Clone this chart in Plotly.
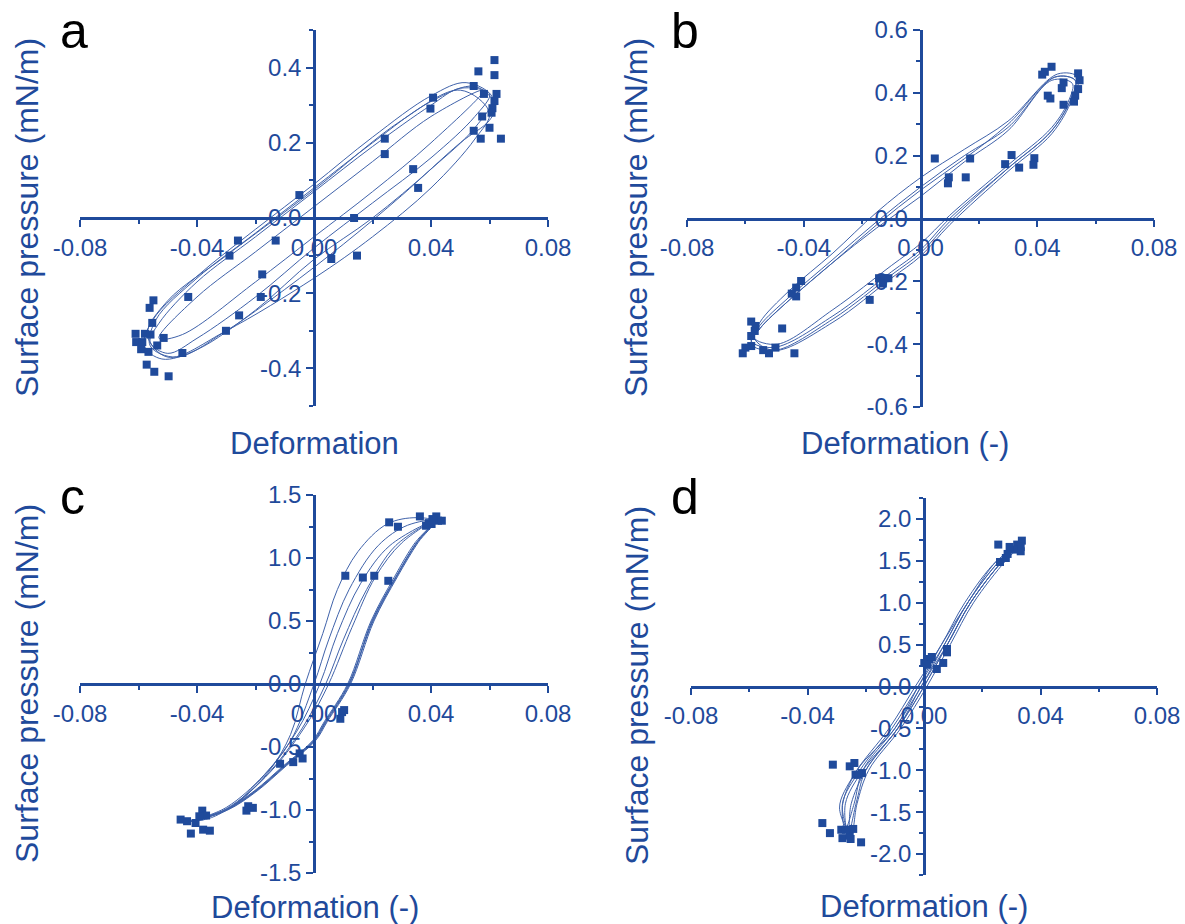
import plotly.graph_objects as go

W, H = 1185, 924
BLUE = "#1f4a9b"
LINE = "#3f62aa"
FONT = "Liberation Sans, Arial, sans-serif"

# ---------------- data ----------------
# Panel a : measured points
a_x = [0.0617, 0.0562, 0.0617, 0.0546, 0.0581, 0.0624, 0.0617, 0.061, 0.0607, 0.0575, 0.060, 0.0546,
       0.057, 0.0639, 0.0407, 0.0398, 0.0242, 0.0242, 0.0339, 0.0356, -0.005, 0.0137, 0.0059, 0.0147,
       -0.026, -0.0131, -0.0289, -0.0177, -0.043, -0.0182, -0.0256, -0.0301, -0.045, -0.0549, -0.0562,
       -0.0553, -0.0514, -0.061, -0.0578, -0.0559, -0.0608, -0.0587, -0.0591, -0.0566, -0.0536, -0.0572,
       -0.0546, -0.0497]
a_y = [0.42, 0.39, 0.38, 0.351, 0.33, 0.33, 0.311, 0.292, 0.28, 0.27, 0.24, 0.232,
       0.211, 0.211, 0.32, 0.291, 0.211, 0.17, 0.13, 0.08, 0.061, 0.0, -0.109, -0.10,
       -0.06, -0.06, -0.10, -0.15, -0.21, -0.21, -0.259, -0.30, -0.359, -0.219, -0.239,
       -0.279, -0.319, -0.308, -0.308, -0.31, -0.33, -0.33, -0.349, -0.356, -0.339, -0.39,
       -0.409, -0.421]
# Panel a : smoothed loops
a_loops_x = [
    [0.061, 0.052, 0.04, 0.02, 0.0, -0.02, -0.04, -0.055, -0.058, -0.052, -0.04, -0.02, 0.0, 0.02, 0.04, 0.055, 0.061],
    [0.060, 0.05, 0.04, 0.02, 0.0, -0.02, -0.04, -0.053, -0.056, -0.05, -0.04, -0.02, 0.0, 0.02, 0.04, 0.055, 0.060],
    [0.062, 0.055, 0.04, 0.02, 0.0, -0.02, -0.04, -0.054, -0.056, -0.047, -0.03, -0.01, 0.01, 0.03, 0.05, 0.06, 0.062],
    [0.058, 0.04, 0.02, 0.0, -0.02, -0.04, -0.053, -0.045, -0.02, 0.0, 0.02, 0.04, 0.058],
    [0.06, 0.05, 0.03, 0.0, -0.03, -0.05, -0.057, -0.05, -0.03, 0.0, 0.02, 0.04, 0.055, 0.06],
]
a_loops_y = [
    [0.32, 0.36, 0.325, 0.215, 0.09, -0.03, -0.155, -0.27, -0.34, -0.375, -0.35, -0.245, -0.11, 0.0, 0.13, 0.24, 0.32],
    [0.33, 0.345, 0.30, 0.19, 0.07, -0.05, -0.17, -0.28, -0.33, -0.36, -0.32, -0.21, -0.08, 0.04, 0.16, 0.27, 0.33],
    [0.30, 0.35, 0.31, 0.20, 0.08, -0.04, -0.16, -0.27, -0.34, -0.37, -0.30, -0.19, -0.07, 0.06, 0.20, 0.26, 0.30],
    [0.34, 0.27, 0.15, 0.03, -0.09, -0.21, -0.32, -0.31, -0.17, -0.05, 0.07, 0.20, 0.34],
    [0.28, 0.34, 0.26, 0.075, -0.10, -0.22, -0.31, -0.37, -0.30, -0.16, -0.05, 0.08, 0.21, 0.28],
]

# Panel b
b_x = [0.0449, 0.0417, 0.0426, 0.0436, 0.0445, 0.049, 0.0484, 0.049, 0.054, 0.0545, 0.054, 0.053, 0.0526,
       0.0049, 0.0097, 0.0094, 0.017, 0.0155, 0.029, 0.0312, 0.0338, 0.039, 0.0387,
       -0.0142, -0.0123, -0.0129, -0.011, -0.0174, -0.0409, -0.0426, -0.0441, -0.0426, -0.0474, -0.0432,
       -0.058, -0.0565, -0.0568, -0.058, -0.058, -0.06, -0.0609, -0.0539, -0.0519, -0.0497]
b_y = [0.483, 0.458, 0.467, 0.391, 0.382, 0.433, 0.415, 0.362, 0.462, 0.44, 0.412, 0.391, 0.372,
       0.191, 0.131, 0.112, 0.191, 0.131, 0.173, 0.202, 0.162, 0.192, 0.171,
       -0.19, -0.19, -0.207, -0.19, -0.259, -0.199, -0.22, -0.239, -0.248, -0.35, -0.429,
       -0.328, -0.342, -0.358, -0.374, -0.406, -0.411, -0.429, -0.419, -0.429, -0.411]
b_loops_x = [
    [0.053, 0.046, 0.03, 0.015, 0.0, -0.015, -0.03, -0.045, -0.055, -0.058, -0.05, -0.03, -0.01, 0.0, 0.01, 0.03, 0.045, 0.052, 0.053],
    [0.054, 0.047, 0.03, 0.015, 0.0, -0.015, -0.03, -0.045, -0.055, -0.057, -0.05, -0.03, -0.01, 0.0, 0.01, 0.03, 0.045, 0.052, 0.054],
    [0.052, 0.045, 0.03, 0.015, 0.0, -0.015, -0.03, -0.045, -0.055, -0.057, -0.049, -0.03, -0.01, 0.0, 0.01, 0.03, 0.045, 0.051, 0.052],
    [0.053, 0.046, 0.03, 0.015, 0.0, -0.015, -0.03, -0.045, -0.055, -0.058, -0.05, -0.03, -0.01, 0.0, 0.01, 0.03, 0.045, 0.052, 0.053],
]
b_loops_y = [
    [0.44, 0.45, 0.29, 0.20, 0.10, -0.01, -0.13, -0.25, -0.34, -0.39, -0.41, -0.31, -0.17, -0.10, 0.0, 0.16, 0.28, 0.39, 0.44],
    [0.45, 0.46, 0.31, 0.22, 0.13, 0.02, -0.11, -0.23, -0.33, -0.38, -0.42, -0.33, -0.19, -0.12, -0.02, 0.15, 0.27, 0.38, 0.45],
    [0.43, 0.44, 0.28, 0.18, 0.07, -0.03, -0.14, -0.26, -0.35, -0.38, -0.40, -0.29, -0.15, -0.08, 0.01, 0.17, 0.29, 0.38, 0.43],
    [0.44, 0.45, 0.30, 0.19, 0.09, -0.02, -0.14, -0.26, -0.35, -0.40, -0.42, -0.32, -0.18, -0.11, -0.01, 0.16, 0.28, 0.39, 0.44],
]

# Panel c
c_x = [0.0362, 0.0257, 0.0287, 0.0392, 0.0405, 0.0418, 0.0424, 0.0437, 0.0402, 0.0383,
       0.0107, 0.0167, 0.0206, 0.0254, 0.0096, 0.0103, 0.009,
       -0.0116, -0.0071, -0.0049, -0.0039, -0.0225, -0.0209, -0.0231,
       -0.0382, -0.0369, -0.0392, -0.0456, -0.0434, -0.0421, -0.0379, -0.0356, -0.0405]
c_y = [1.33, 1.283, 1.248, 1.277, 1.309, 1.33, 1.296, 1.296, 1.27, 1.256,
       0.859, 0.845, 0.859, 0.819, -0.223, -0.207, -0.276,
       -0.633, -0.62, -0.551, -0.591, -0.97, -0.983, -1.005,
       -1.005, -1.044, -1.05, -1.076, -1.089, -1.187, -1.156, -1.164, -1.103]
c_lower_x = [
    [0.041, 0.035, 0.028, 0.02, 0.012, 0.004, 0.0, -0.01, -0.02, -0.03, -0.042],
    [0.041, 0.0355, 0.0285, 0.0205, 0.0125, 0.0045, 0.0005, -0.0095, -0.0195, -0.0295, -0.042],
    [0.041, 0.0345, 0.0275, 0.0195, 0.0115, 0.0035, -0.0005, -0.0105, -0.0205, -0.0305, -0.042],
    [0.041, 0.035, 0.028, 0.0198, 0.0122, 0.0042, 0.0002, -0.0098, -0.0198, -0.0298, -0.042],
    [0.041, 0.0352, 0.0282, 0.0202, 0.0118, 0.0038, -0.0002, -0.0102, -0.0202, -0.0302, -0.042],
]
c_lower_y = [1.29, 1.12, 0.85, 0.5, 0.0, -0.3, -0.45, -0.65, -0.85, -1.0, -1.09]
c_upper_x = [
    [-0.042, -0.035, -0.025, -0.015, -0.008, -0.003, 0.003, 0.008, 0.015, 0.025, 0.035, 0.041],
    [-0.042, -0.03, -0.018, -0.008, 0.0, 0.005, 0.012, 0.022, 0.032, 0.041],
    [-0.042, -0.03, -0.017, -0.006, 0.002, 0.008, 0.016, 0.026, 0.041],
    [-0.042, -0.03, -0.016, -0.004, 0.004, 0.01, 0.018, 0.028, 0.041],
    [-0.042, -0.03, -0.015, -0.002, 0.005, 0.013, 0.021, 0.03, 0.041],
]
c_upper_y = [
    [-1.09, -1.06, -0.92, -0.68, -0.4, 0.0, 0.4, 0.75, 1.05, 1.27, 1.32, 1.29],
    [-1.09, -1.0, -0.75, -0.45, 0.0, 0.35, 0.75, 1.1, 1.26, 1.29],
    [-1.09, -0.98, -0.72, -0.38, 0.0, 0.4, 0.8, 1.1, 1.29],
    [-1.09, -1.0, -0.72, -0.35, 0.0, 0.35, 0.75, 1.1, 1.29],
    [-1.09, -0.99, -0.7, -0.3, 0.0, 0.45, 0.85, 1.12, 1.29],
]

# Panel d
d_x = [0.0255, 0.0261, 0.032, 0.0336, 0.0332, 0.0332, 0.0306, 0.0287, 0.0281, 0.0294,
       0.0001, 0.0018, 0.0027, 0.0012, 0.0044, 0.0066, 0.0079, 0.0079,
       -0.0313, -0.0255, -0.0239, -0.0235, -0.0213, -0.0226,
       -0.0349, -0.0323, -0.0284, -0.028, -0.0255, -0.0268, -0.0243, -0.0252, -0.0216]
d_y = [1.694, 1.486, 1.694, 1.741, 1.666, 1.614, 1.634, 1.582, 1.534, 1.666,
       0.281, 0.328, 0.352, 0.26, 0.209, 0.281, 0.408, 0.448,
       -0.933, -0.953, -0.913, -1.053, -1.033, -1.053,
       -1.63, -1.75, -1.71, -1.81, -1.78, -1.71, -1.70, -1.82, -1.86]
d_loops_x = [
    [0.032, 0.027, 0.016, 0.008, 0.0, -0.009, -0.02, -0.025, -0.026, -0.028, -0.022, -0.011, -0.002, 0.007, 0.015, 0.026, 0.032],
    [0.033, 0.028, 0.017, 0.009, 0.001, -0.008, -0.019, -0.023, -0.025, -0.029, -0.024, -0.012, -0.003, 0.006, 0.014, 0.025, 0.033],
    [0.031, 0.026, 0.015, 0.007, -0.001, -0.01, -0.021, -0.024, -0.027, -0.028, -0.023, -0.01, -0.002, 0.006, 0.015, 0.025, 0.031],
    [0.033, 0.027, 0.016, 0.008, 0.0, -0.009, -0.02, -0.023, -0.026, -0.027, -0.021, -0.009, -0.001, 0.008, 0.016, 0.027, 0.033],
]
d_loops_y = [
    [1.66, 1.5, 1.0, 0.5, 0.0, -0.5, -1.0, -1.4, -1.72, -1.4, -1.0, -0.5, 0.0, 0.5, 1.0, 1.5, 1.66],
    [1.68, 1.5, 1.0, 0.5, 0.0, -0.5, -1.0, -1.4, -1.75, -1.45, -1.05, -0.5, 0.0, 0.5, 1.0, 1.5, 1.68],
    [1.64, 1.5, 1.0, 0.5, 0.0, -0.5, -1.0, -1.4, -1.70, -1.42, -1.0, -0.5, 0.0, 0.5, 1.0, 1.5, 1.64],
    [1.70, 1.5, 1.0, 0.5, 0.0, -0.5, -1.0, -1.35, -1.76, -1.4, -1.0, -0.5, 0.0, 0.5, 1.0, 1.5, 1.70],
]

# Tick labels
x_tickvals = [-0.08, -0.04, 0.0, 0.04, 0.08]
x_ticktext = ["-0.08", "-0.04", "0.00", "0.04", "0.08"]
x_minor = [-0.06, -0.02, 0.02, 0.06]
a_tickvals = [-0.4, -0.2, 0.0, 0.2, 0.4]
a_ticktext = ["-0.4", "-0.2", "0.0", "0.2", "0.4"]
a_minor = [-0.5, -0.3, -0.1, 0.1, 0.3, 0.5]
b_tickvals = [-0.6, -0.4, -0.2, 0.0, 0.2, 0.4, 0.6]
b_ticktext = ["-0.6", "-0.4", "-0.2", "0.0", "0.2", "0.4", "0.6"]
b_minor = [-0.5, -0.3, -0.1, 0.1, 0.3, 0.5]
c_tickvals = [-1.5, -1.0, -0.5, 0.0, 0.5, 1.0, 1.5]
c_ticktext = ["-1.5", "-1.0", "-0.5", "0.0", "0.5", "1.0", "1.5"]
c_minor = [-1.25, -0.75, -0.25, 0.25, 0.75, 1.25]
d_tickvals = [-2.0, -1.5, -1.0, -0.5, 0.0, 0.5, 1.0, 1.5, 2.0]
d_ticktext = ["-2.0", "-1.5", "-1.0", "-0.5", "0.0", "0.5", "1.0", "1.5", "2.0"]
d_minor = [-2.25, -1.75, -1.25, -0.75, -0.25, 0.25, 0.75, 1.25, 1.75, 2.25]

# ---------------- layout helpers ----------------
panels = [
    dict(k="", box=(80, 548, 30, 406), yr=(-0.5, 0.5), yt=a_tickvals, ytt=a_ticktext, ym=a_minor,
         xt="Deformation", xtp=(314, 443), ytp=(27, 218), L="a", Lp=(58, 31)),
    dict(k="2", box=(687, 1154, 30, 407), yr=(-0.6, 0.6), yt=b_tickvals, ytt=b_ticktext, ym=b_minor,
         xt="Deformation (-)", xtp=(905, 443), ytp=(636, 218), L="b", Lp=(669, 31)),
    dict(k="3", box=(80, 548, 495, 873), yr=(-1.5, 1.5), yt=c_tickvals, ytt=c_ticktext, ym=c_minor,
         xt="Deformation (-)", xtp=(315, 907), ytp=(27, 684), L="c", Lp=(58, 497)),
    dict(k="4", box=(691, 1157, 498, 875), yr=(-2.25, 2.25), yt=d_tickvals, ytt=d_ticktext, ym=d_minor,
         xt="Deformation (-)", xtp=(924, 906), ytp=(637, 686), L="d", Lp=(669, 497)),
]
XR = (-0.08, 0.08)

fig = go.Figure()


def add_markers(k, xs, ys):
    fig.add_trace(go.Scatter(x=xs, y=ys, mode="markers", xaxis="x" + k, yaxis="y" + k,
                             marker=dict(symbol="square", size=8, color=BLUE, line=dict(width=0)),
                             showlegend=False, hoverinfo="skip"))


def add_loop(k, xs, ys):
    fig.add_trace(go.Scatter(x=xs, y=ys, mode="lines", xaxis="x" + k, yaxis="y" + k,
                             line=dict(color=LINE, width=1, shape="spline", smoothing=1.0),
                             showlegend=False, hoverinfo="skip"))


for lx, ly in zip(a_loops_x, a_loops_y):
    add_loop("", lx, ly)
add_markers("", a_x, a_y)
for lx, ly in zip(b_loops_x, b_loops_y):
    add_loop("2", lx, ly)
add_markers("2", b_x, b_y)
for ux, uy, lx in zip(c_upper_x, c_upper_y, c_lower_x):
    add_loop("3", ux + lx[1:], uy + c_lower_y[1:])
add_markers("3", c_x, c_y)
for lx, ly in zip(d_loops_x, d_loops_y):
    add_loop("4", lx, ly)
add_markers("4", d_x, d_y)

layout = dict(width=W, height=H, autosize=False, margin=dict(l=0, r=0, t=0, b=0, autoexpand=False),
              paper_bgcolor="white", plot_bgcolor="white", showlegend=False,
              font=dict(family=FONT, color=BLUE))
annotations = []
tickfont = dict(family=FONT, size=24, color=BLUE)
for p in panels:
    l, r, t, b = p["box"]
    y0, y1 = p["yr"]
    xdom = [l / W, r / W]
    ydom = [1 - b / H, 1 - t / H]
    ypos0 = t + (y1 - 0) / (y1 - y0) * (b - t)
    xpos0 = l + (0 - XR[0]) / (XR[1] - XR[0]) * (r - l)
    k = p["k"]
    layout["xaxis" + k] = dict(domain=xdom, range=list(XR), anchor="free", position=1 - ypos0 / H,
                               automargin=False,
                               showline=True, linecolor=BLUE, linewidth=2.5, showgrid=False, zeroline=False,
                               ticks="outside", ticklen=7, tickwidth=2, tickcolor=BLUE,
                               tickvals=x_tickvals, ticktext=x_ticktext, tickfont=tickfont,
                               minor=dict(tickvals=x_minor, ticks="outside", ticklen=4, tickwidth=2,
                                          tickcolor=BLUE, showgrid=False),
                               fixedrange=True)
    layout["yaxis" + k] = dict(domain=ydom, range=[y0, y1], anchor="free", position=xpos0 / W,
                               automargin=False,
                               showline=True, linecolor=BLUE, linewidth=2.5, showgrid=False, zeroline=False,
                               ticks="outside", ticklen=7, tickwidth=2, tickcolor=BLUE,
                               tickvals=p["yt"], ticktext=p["ytt"], tickfont=tickfont,
                               minor=dict(tickvals=p["ym"], ticks="outside", ticklen=4, tickwidth=2,
                                          tickcolor=BLUE, showgrid=False),
                               fixedrange=True)
    annotations.append(dict(text=p["xt"], x=p["xtp"][0] / W, y=1 - p["xtp"][1] / H, xref="paper", yref="paper",
                            showarrow=False, xanchor="center", yanchor="middle",
                            font=dict(family=FONT, size=31, color=BLUE)))
    annotations.append(dict(text="Surface pressure (mN/m)", x=p["ytp"][0] / W, y=1 - p["ytp"][1] / H,
                            xref="paper", yref="paper", showarrow=False, textangle=-90,
                            xanchor="center", yanchor="middle",
                            font=dict(family=FONT, size=32, color=BLUE)))
    annotations.append(dict(text=p["L"], x=p["Lp"][0] / W, y=1 - p["Lp"][1] / H, xref="paper", yref="paper",
                            showarrow=False, xanchor="left", yanchor="middle",
                            font=dict(family=FONT, size=50, color="black")))
layout["annotations"] = annotations
fig.update_layout(**layout)
fig.write_html("out.html")
